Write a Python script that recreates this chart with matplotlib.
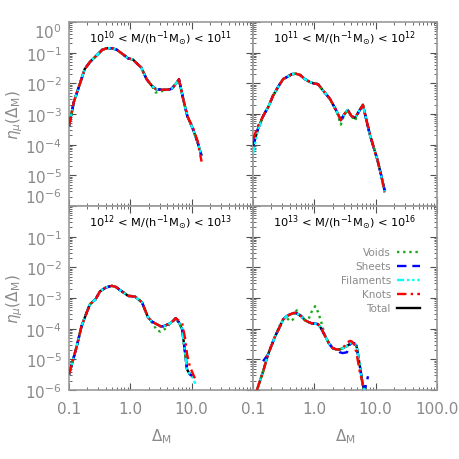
import numpy as np
import matplotlib
matplotlib.use('Agg')
import matplotlib.pyplot as plt
from matplotlib.ticker import FixedLocator, FixedFormatter, LogLocator, NullFormatter
from matplotlib.lines import Line2D

plt.rcParams['font.family'] = ['DejaVu Sans']
plt.rcParams['mathtext.fontset'] = 'dejavusans'

nan = np.nan

# ---------------- data ----------------
titles = [r'$10^{10}$ < M/(h$^{-1}$M$_{\odot}$) < $10^{11}$',
          r'$10^{11}$ < M/(h$^{-1}$M$_{\odot}$) < $10^{12}$',
          r'$10^{12}$ < M/(h$^{-1}$M$_{\odot}$) < $10^{13}$',
          r'$10^{13}$ < M/(h$^{-1}$M$_{\odot}$) < $10^{16}$']

series_names = ['Voids', 'Sheets', 'Filaments', 'Knots', 'Total']

# panel 1
delta1 = [0.10, 0.12, 0.15, 0.18, 0.22, 0.28, 0.35, 0.42, 0.50, 0.60, 0.75, 0.92, 1.1, 1.3,
          1.5, 1.85, 2.2, 2.6, 3.2, 4.0, 4.7, 5.5, 6.2, 7.3, 8.5, 10.5, 12.5, 14.5]
total1 = [4e-4, 2.5e-3, 9.5e-3, 2.9e-2, 5e-2, 8e-2, 1.25e-1, 1.4e-1, 1.4e-1, 1.25e-1, 9e-2, 6.5e-2, 6e-2, 4.3e-2,
          3.3e-2, 1.35e-2, 8.7e-3, 6.5e-3, 6.2e-3, 6.2e-3, 6.6e-3, 9.5e-3, 1.35e-2, 3e-3, 8.5e-4, 3.2e-4, 1.2e-4, 4.3e-5]
voids1 = [4e-4, 2.5e-3, 9.5e-3, 2.9e-2, 5e-2, 8e-2, 1.25e-1, 1.4e-1, 1.4e-1, 1.25e-1, 9e-2, 6.5e-2, 6e-2, 4.3e-2,
          3.3e-2, 1.35e-2, 8.7e-3, 5e-3, 5.5e-3, 6.2e-3, 6.6e-3, 9.5e-3, 1.35e-2, 3e-3, 8.5e-4, 3.2e-4, 1.2e-4, 4.3e-5]
sheets1 = total1
filaments1 = total1
knots1 = [4e-4, 2.5e-3, 9.5e-3, 2.9e-2, 5e-2, 8e-2, 1.25e-1, 1.4e-1, 1.4e-1, 1.25e-1, 9e-2, 6.5e-2, 6e-2, 4.3e-2,
          3.3e-2, 1.35e-2, 8.7e-3, 6.5e-3, 6.2e-3, 6.2e-3, 6.6e-3, 9.5e-3, 1.35e-2, 3e-3, 8.5e-4, 3.6e-4, 1.3e-4, 2.8e-5]

# panel 2
delta2 = [0.10, 0.12, 0.146, 0.18, 0.21, 0.26, 0.31, 0.37, 0.43, 0.50, 0.58, 0.70, 0.85, 1.0, 1.15, 1.4,
          1.8, 2.3, 2.7, 3.1, 3.5, 4.0, 4.6, 5.4, 6.2, 7.0, 8.1, 9.3, 10.6, 12.2, 14.0]
total2 = [9e-5, 3.2e-4, 8.5e-4, 1.8e-3, 3.8e-3, 8e-3, 1.38e-2, 1.66e-2, 2e-2, 2.05e-2, 1.9e-2, 1.38e-2, 1.1e-2,
          9.8e-3, 9.4e-3, 5.7e-3, 3.1e-3, 1.25e-3, 6.3e-4, 1e-3, 1.35e-3, 8.7e-4, 7.4e-4, 1.26e-3, 2e-3,
          6.8e-4, 2e-4, 8e-5, 3.4e-5, 1.07e-5, 3.2e-6]
voids2 = [9e-5, 3.2e-4, 8.5e-4, 1.8e-3, 3.8e-3, 8e-3, 1.38e-2, 1.66e-2, 2e-2, 2.05e-2, 1.9e-2, 1.38e-2, 1.1e-2,
          9.8e-3, 9.4e-3, 5.7e-3, 3.1e-3, 1.25e-3, 4.5e-4, 1e-3, 1.35e-3, 8.7e-4, 6e-4, 1.26e-3, 2e-3,
          6.8e-4, 2e-4, 8e-5, 3.4e-5, 1.07e-5, 3.2e-6]
sheets2 = total2
filaments2 = [5e-5, 3.0e-4, 8.5e-4, 1.8e-3, 3.8e-3, 8e-3, 1.38e-2, 1.66e-2, 2e-2, 2.05e-2, 1.9e-2, 1.38e-2, 1.1e-2,
              9.8e-3, 9.4e-3, 5.7e-3, 3.1e-3, 1.25e-3, 6.3e-4, 1e-3, 1.35e-3, 8.7e-4, 7.4e-4, 1.26e-3, 2e-3,
              6.8e-4, 2e-4, 8e-5, 3.4e-5, 1.07e-5, 2.6e-6]
knots2 = [1.5e-4, 4e-4, 8.5e-4, 1.8e-3, 3.8e-3, 8e-3, 1.38e-2, 1.66e-2, 2e-2, 2.05e-2, 1.9e-2, 1.38e-2, 1.1e-2,
          9.8e-3, 9.4e-3, 5.7e-3, 3.1e-3, 1.25e-3, 6.3e-4, 1e-3, 1.35e-3, 8.7e-4, 7.4e-4, 1.26e-3, 2e-3,
          6.8e-4, 2.2e-4, 8e-5, 3.4e-5, 1.1e-5, 2.8e-6]

# panel 3
delta3 = [0.10, 0.115, 0.134, 0.16, 0.19, 0.22, 0.27, 0.32, 0.40, 0.50, 0.58, 0.68, 0.80, 0.92, 1.05, 1.2,
          1.55, 1.95, 2.3, 2.7, 3.1, 3.45, 4.0, 4.45, 5.0, 5.5, 6.2, 7.0, 7.8, 8.4, 9.3, 10.4, 11.5]
total3 = [3.2e-6, 8.8e-6, 2.7e-5, 1.2e-4, 3e-4, 6.3e-4, 9e-4, 1.65e-3, 2.2e-3, 2.5e-3, 2.3e-3, 1.8e-3, 1.45e-3,
          1.17e-3, 1.15e-3, 1.1e-3, 7.2e-4, 2.3e-4, 1.65e-4, 1.4e-4, 1.2e-4, 1.2e-4, 1.35e-4, 1.5e-4, 1.8e-4,
          2.2e-4, 1.6e-4, 9.5e-5, 1.7e-5, 4.7e-6, 3.3e-6, 2.8e-6, nan]
voids3 = [3.2e-6, 8.8e-6, 2.7e-5, 1.2e-4, 3e-4, 6.3e-4, 9e-4, 1.65e-3, 2.2e-3, 2.5e-3, 2.3e-3, 1.8e-3, 1.45e-3,
          1.17e-3, 1.15e-3, 1.1e-3, 7.2e-4, 2.3e-4, 1.5e-4, 9e-5, 8e-5, 9e-5, 1.1e-4, 1.5e-4, 1.8e-4,
          2.2e-4, 1.6e-4, 9.5e-5, 1.7e-5, 4.7e-6, 3.3e-6, 2.8e-6, nan]
sheets3 = total3
filaments3 = [3.2e-6, 8.8e-6, 2.7e-5, 1.2e-4, 3e-4, 6.3e-4, 9e-4, 1.65e-3, 2.2e-3, 2.5e-3, 2.3e-3, 1.8e-3, 1.45e-3,
              1.17e-3, 1.15e-3, 1.1e-3, 7.2e-4, 2.3e-4, 1.65e-4, 1.4e-4, 1.2e-4, 1.2e-4, 1.35e-4, 1.5e-4, 1.8e-4,
              2.2e-4, 1.6e-4, 9.5e-5, 1.7e-5, 4.7e-6, 3.3e-6, 2.5e-6, 1.6e-6]
knots3 = [3.2e-6, 8.8e-6, 2.7e-5, 1.2e-4, 3e-4, 6.3e-4, 9e-4, 1.65e-3, 2.2e-3, 2.5e-3, 2.3e-3, 1.8e-3, 1.45e-3,
          1.17e-3, 1.15e-3, 1.1e-3, 7.2e-4, 2.3e-4, 1.65e-4, 1.4e-4, 1.2e-4, 1.2e-4, 1.35e-4, 1.5e-4, 1.8e-4,
          2.2e-4, 1.8e-4, 1.5e-4, 5e-5, 1.5e-5, 6e-6, 3.5e-6, 2.2e-6]

# panel 4
delta4 = [0.116, 0.13, 0.146, 0.176, 0.20, 0.23, 0.27, 0.31, 0.36, 0.40, 0.45, 0.50, 0.54, 0.62, 0.70, 0.80,
          0.90, 1.03, 1.15, 1.3, 1.5, 1.75, 2.0, 2.3, 2.6, 2.9, 3.4, 3.8, 4.1, 4.5, 4.9, 5.5, 6.2, 6.8, 7.5]
total4 = [1e-6, 2e-6, 4e-6, 1.45e-5, 2.8e-5, 5.7e-5, 1.1e-4, 2e-4, 2.6e-4, 2.9e-4, 3.2e-4, 3.3e-4, 3e-4,
          2.5e-4, 1.9e-4, 1.65e-4, 1.5e-4, 1.45e-4, 1.4e-4, 1e-4, 5.7e-5, 3.2e-5, 2.3e-5, 2.1e-5, 2.1e-5,
          2.3e-5, 2.7e-5, 3.2e-5, 3.5e-5, 3.3e-5, 2.7e-5, 6.3e-6, 1.4e-6, 8e-7, nan]
voids4 = [1e-6, 2e-6, 4e-6, 1.45e-5, 2.8e-5, 5.7e-5, 1.2e-4, 2e-4, 2.2e-4, 1.75e-4, 2e-4, 4.3e-4, 3.3e-4,
          2.5e-4, 1.9e-4, 2e-4, 3.5e-4, 5.4e-4, 3.5e-4, 1.6e-4, 5.7e-5, 3.2e-5, 2.3e-5, 2.1e-5, 2.1e-5,
          2.3e-5, 2.7e-5, 3.2e-5, 3.5e-5, 3.3e-5, 2.7e-5, 6.3e-6, 1.4e-6, 8e-7, nan]
sheets4 = [nan, nan, 8.7e-6, 1.45e-5, 2.8e-5, 5.7e-5, 1.1e-4, 2e-4, 2.6e-4, 2.9e-4, 3.2e-4, 3.3e-4, 3e-4,
           2.5e-4, 1.9e-4, 1.65e-4, 1.5e-4, 1.45e-4, 1.4e-4, 1e-4, 5.7e-5, 3.2e-5, 2.3e-5, 2.1e-5, 1.7e-5,
           1.6e-5, 1.7e-5, 3e-5, 3.5e-5, 3.3e-5, 2.7e-5, 6.3e-6, 1.4e-6, 1.2e-6, 2.8e-6]
filaments4 = total4
knots4 = [1e-6, 2e-6, 4e-6, 1.45e-5, 2.8e-5, 5.7e-5, 1.1e-4, 2e-4, 2.6e-4, 2.9e-4, 3.2e-4, 3.3e-4, 3e-4,
          2.5e-4, 1.9e-4, 1.65e-4, 1.5e-4, 1.45e-4, 1.4e-4, 1e-4, 5.7e-5, 3.2e-5, 2.3e-5, 2.1e-5, 2.1e-5,
          2.3e-5, 3.5e-5, 4e-5, 3.8e-5, 3e-5, 1.5e-5, 4e-6, 1.5e-6, 1.2e-6, nan]

x_ticks = [0.1, 1.0, 10.0, 100.0]
x_ticklabels = ['0.1', '1.0', '10.0', '100.0']
y_ticks = [1e0, 1e-1, 1e-2, 1e-3, 1e-4, 1e-5, 1e-6]
y_ticklabels = [r'$10^{0}$', r'$10^{-1}$', r'$10^{-2}$', r'$10^{-3}$', r'$10^{-4}$', r'$10^{-5}$', r'$10^{-6}$']

panels = [
    (delta1, [voids1, sheets1, filaments1, knots1, total1]),
    (delta2, [voids2, sheets2, filaments2, knots2, total2]),
    (delta3, [voids3, sheets3, filaments3, knots3, total3]),
    (delta4, [voids4, sheets4, filaments4, knots4, total4]),
]

# ---------------- style ----------------
gray = '#8a8a8a'
frame_col = '#9a9a9a'
tick_col = '#505050'
colors = {'Voids': '#1aa81a', 'Sheets': '#0000ff', 'Filaments': '#00ffff', 'Knots': '#ff0000', 'Total': '#000000'}
styles = {'Voids': (0, (1, 1.6)), 'Sheets': (0, (4, 2.5)),
          'Filaments': (0, (3, 1.2, 1, 1.2, 1, 1.2, 1, 1.2)),
          'Knots': (0, (4, 1.8, 1, 1.8)), 'Total': '-'}
zorders = {'Total': 2, 'Voids': 3, 'Sheets': 4, 'Filaments': 5, 'Knots': 6}

fig = plt.figure(figsize=(4.6, 4.6), dpi=100)
L, R, B, T = 69 / 460, 437 / 460, 1 - 391 / 460, 1 - 23 / 460
w = (R - L) / 2
h = (T - B) / 2
axes = [fig.add_axes([L, B + h, w, h]), fig.add_axes([L + w, B + h, w, h]),
        fig.add_axes([L, B, w, h]), fig.add_axes([L + w, B, w, h])]

for i, ax in enumerate(axes):
    delta, comps = panels[i]
    for name, vals in zip(series_names, comps):
        ax.plot(delta, vals, color=colors[name], ls=styles[name], lw=1.7,
                zorder=zorders[name], solid_capstyle='butt', dash_capstyle='butt')
    ax.set_xscale('log')
    ax.set_yscale('log')
    ax.set_xlim(0.1, 100)
    ax.set_ylim(1e-6, 1e0)
    for s in ax.spines.values():
        s.set_color(frame_col)
        s.set_linewidth(1.2)
    ax.xaxis.set_major_locator(FixedLocator(x_ticks))
    ax.yaxis.set_major_locator(FixedLocator(y_ticks))
    ax.xaxis.set_minor_locator(LogLocator(base=10, subs=np.arange(2, 10), numticks=20))
    ax.yaxis.set_minor_locator(LogLocator(base=10, subs=np.arange(2, 10), numticks=20))
    ax.tick_params(which='both', direction='in', top=True, right=True, color=tick_col,
                   labelcolor=gray, labelsize=11)
    ax.tick_params(which='major', length=5, width=0.8)
    ax.tick_params(which='minor', length=2.5, width=0.6)
    ax.tick_params(axis='x', pad=8)
    ax.tick_params(axis='y', pad=5)
    ax.xaxis.set_minor_formatter(NullFormatter())
    ax.yaxis.set_minor_formatter(NullFormatter())
    ax.text(0.5, 0.915, titles[i], transform=ax.transAxes, ha='center', va='center',
            fontsize=8.2, color='black')

    if i in (0, 2):
        labs = list(y_ticklabels)
        if i == 2:
            labs[0] = ''
        ax.yaxis.set_major_formatter(FixedFormatter(labs))
    else:
        ax.yaxis.set_major_formatter(NullFormatter())
    if i in (2, 3):
        labs = list(x_ticklabels)
        if i == 2:
            labs[3] = ''
        ax.xaxis.set_major_formatter(FixedFormatter(labs))
    else:
        ax.xaxis.set_major_formatter(NullFormatter())

# shift edge labels of the top-left panel like the original
fig.canvas.draw()
ylabs0 = axes[0].get_yticklabels()
ylabs0[0].set_va('top')
ylabs0[-1].set_va('bottom')

# axis labels
for yc in (115, 299):
    fig.text(15 / 460, 1 - yc / 460, r'$\eta_{\mu}(\Delta_{\rm M})$', rotation=90,
             ha='center', va='center', color=gray, fontsize=11)
for xc in (161, 345):
    fig.text(xc / 460, 1 - 437 / 460, r'$\Delta_{\rm M}$', ha='center', va='center',
             color=gray, fontsize=11)

# legend
handles = [Line2D([], [], color=colors[n], ls=styles[n], lw=1.7) for n in series_names]
axes[3].legend(handles, series_names, loc='upper right', bbox_to_anchor=(0.908, 0.775),
               frameon=False, markerfirst=False, fontsize=7.5, labelcolor=gray,
               handlelength=2.2, handletextpad=0.6, labelspacing=0.38, borderpad=0,
               borderaxespad=0)

fig.savefig('out.png', dpi=100)
